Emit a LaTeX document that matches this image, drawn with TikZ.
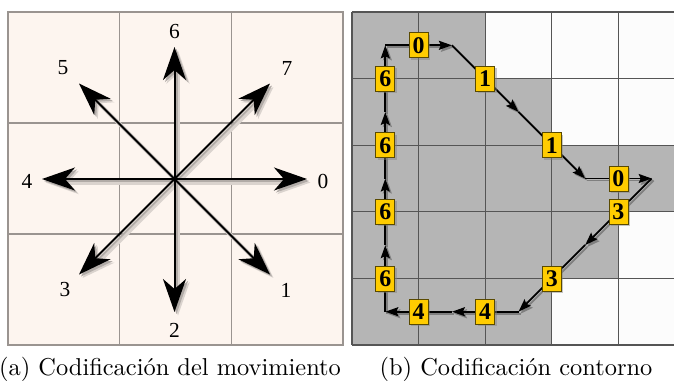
\documentclass[tikz,border=0pt]{standalone}
\usepackage{fontspec}
\usetikzlibrary{arrows.meta,shadows}
\newfontfamily\digitfont{Liberation Serif}
\newfontfamily\capfont{lmroman10-regular}[Extension=.otf]
\definecolor{panelbg}{HTML}{FDF5EF}
\definecolor{gridA}{HTML}{9A9490}
\definecolor{cellgray}{HTML}{B5B5B5}
\definecolor{gridB}{HTML}{555555}
\definecolor{codeyellow}{HTML}{FFCC00}
\definecolor{codeedge}{HTML}{5A4A00}
\begin{document}
\begin{tikzpicture}[x=1bp,y=-1bp,
  dirarrow/.style={line width=2bp, -{Stealth[length=33bp,width=23bp,inset=10bp]}},
  dirshadowA/.style={dirarrow, draw=black!14!panelbg, fill=black!14!panelbg, line width=4bp},
  dirshadowB/.style={dirarrow, draw=black!30!panelbg, fill=black!30!panelbg},
  dirlabel/.style={font=\digitfont\fontsize{21.5}{22}\selectfont, inner sep=0},
  chainedge/.style={line width=1.8bp, -{Stealth[length=13bp,width=9bp,inset=2bp]}},
  chainshadow/.style={chainedge, draw=black!30!cellgray, fill=black!30!cellgray},
  codebox/.style={fill=codeyellow, draw=codeedge, line width=0.8bp, minimum width=19bp, minimum height=25bp, inner sep=0,
    font=\digitfont\bfseries\fontsize{24}{24}\selectfont,
    drop shadow={shadow xshift=2bp, shadow yshift=-2bp, opacity=0.45}},
  captext/.style={font=\capfont\fontsize{24.5}{28}\selectfont, inner sep=0, anchor=base}
]
\useasboundingbox (0,0) rectangle (674,380);
\clip (0,0) rectangle (674,380);
\fill[white] (0,0) rectangle (674,380);

% ---------- (a) movement coding ----------
\fill[panelbg] (8,12) rectangle (343,345);
\foreach \gx in {119.67,231.33} \draw[gridA, line width=1.3bp] (\gx,12) -- (\gx,345);
\foreach \gy in {123,234} \draw[gridA, line width=1.3bp] (8,\gy) -- (343,\gy);
\draw[gridA, line width=1.3bp] (8,12) rectangle (343,345);

\coordinate (c) at (174.5,179);
\coordinate (t0) at (307,179);
\coordinate (t1) at (270,274.5);
\coordinate (t2) at (174.5,312);
\coordinate (t3) at (79,274.5);
\coordinate (t4) at (42,179);
\coordinate (t5) at (79,83.5);
\coordinate (t6) at (174.5,47);
\coordinate (t7) at (270,83.5);

\foreach \k in {0,...,7}
  \draw[dirshadowA] ([shift={(3.5bp,-3.5bp)}]c) -- ([shift={(3.5bp,-3.5bp)}]t\k);
\foreach \k in {0,...,7}
  \draw[dirshadowB] ([shift={(2bp,-2bp)}]c) -- ([shift={(2bp,-2bp)}]t\k);
\foreach \k in {0,...,7}
  \draw[dirarrow] (c) -- (t\k);

\node[dirlabel] (l0) at (323,181) {0};
\node[dirlabel] (l1) at (286,290) {1};
\node[dirlabel] (l2) at (174.5,330) {2};
\node[dirlabel] (l3) at (65,290) {3};
\node[dirlabel] (l4) at (27,181) {4};
\node[dirlabel] (l5) at (63,68) {5};
\node[dirlabel] (l6) at (174.5,32) {6};
\node[dirlabel] (l7) at (287,68) {7};

% ---------- (b) contour coding ----------
\begin{scope}[shift={(352bp,-12bp)}, x=33.3bp, y=-33.3bp]
  \fill[white!99!black] (0,0) rectangle (10,10);
  \fill[cellgray] (0,0) rectangle (4,2);
  \fill[cellgray] (0,2) rectangle (6,4);
  \fill[cellgray] (0,4) rectangle (10,6);
  \fill[cellgray] (0,6) rectangle (8,8);
  \fill[cellgray] (0,8) rectangle (6,10);
  \foreach \g in {0,2,...,10} {
    \draw[gridB, line width=1.2bp] (\g,0) -- (\g,10);
    \draw[gridB, line width=1.2bp] (0,\g) -- (10,\g);
  }

  \coordinate (v0) at (1,1);
  \coordinate (v1) at (3,1);
  \coordinate (v2) at (5,3);
  \coordinate (v3) at (7,5);
  \coordinate (v4) at (9,5);
  \coordinate (v5) at (7,7);
  \coordinate (v6) at (5,9);
  \coordinate (v7) at (3,9);
  \coordinate (v8) at (1,9);
  \coordinate (v9) at (1,7);
  \coordinate (v10) at (1,5);
  \coordinate (v11) at (1,3);

  \foreach \a/\b in {0/1,1/2,2/3,3/4,4/5,5/6,6/7,7/8,8/9,9/10,10/11,11/0}
    \draw[chainshadow] ([shift={(2bp,-2bp)}]v\a) -- ([shift={(2bp,-2bp)}]v\b);
  \foreach \a/\b in {0/1,1/2,2/3,3/4,4/5,5/6,6/7,7/8,8/9,9/10,10/11,11/0}
    \draw[chainedge] (v\a) -- (v\b);

  \node[codebox] (k0) at (2,1) {0};
  \node[codebox] (k1) at (4,2) {1};
  \node[codebox] (k2) at (6,4) {1};
  \node[codebox] (k3) at (8,5) {0};
  \node[codebox] (k4) at (8,6) {3};
  \node[codebox] (k5) at (6,8) {3};
  \node[codebox] (k6) at (4,9) {4};
  \node[codebox] (k7) at (2,9) {4};
  \node[codebox] (k8) at (1,8) {6};
  \node[codebox] (k9) at (1,6) {6};
  \node[codebox] (k10) at (1,4) {6};
  \node[codebox] (k11) at (1,2) {6};
\end{scope}

% ---------- captions ----------
\node[captext] (capa) at (170,375) {(a) Codificación del movimiento};
\node[captext] (capb) at (516,375) {(b) Codificación contorno};
\end{tikzpicture}
\end{document}
